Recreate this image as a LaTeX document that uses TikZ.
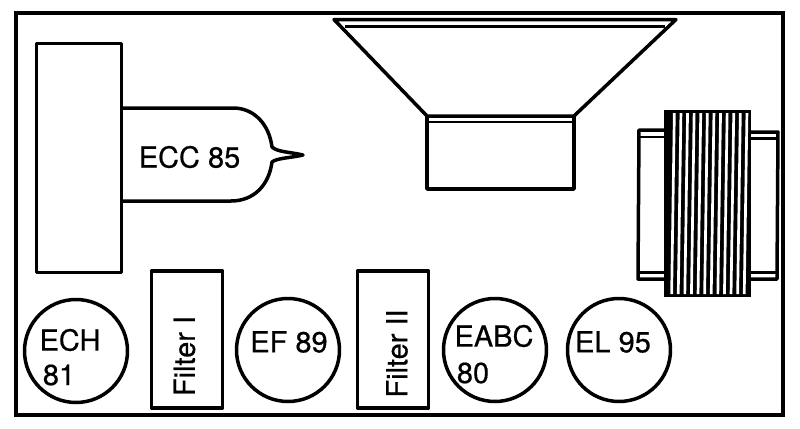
\documentclass[tikz,border=0pt]{standalone}
\usepackage{fontspec}
\setmainfont[FakeBold=0.5]{TeX Gyre Heros}
\tikzset{
  ink/.style={draw=black,line width=1.75pt,line join=round},
  thin ink/.style={draw=black,line width=1.2pt,line join=round},
  label text/.style={font=\fontsize{14.5}{16}\selectfont,inner sep=0pt,text=black},
  tube/.style={ink,circle,minimum size=51.5pt,inner sep=0pt},
  filterbox/.style={ink,rectangle,minimum width=35.5pt,minimum height=68.5pt,inner sep=0pt}
}
\begin{document}
\begin{tikzpicture}[x=0.5pt,y=-0.5pt]
\useasboundingbox (0,0) rectangle (800,429);
% frame
\draw[line width=1.9pt] (16,13) rectangle (783,415);
% ECC 85 chassis block and tube
\node[ink,minimum width=42.5pt,minimum height=114.5pt,inner sep=0pt] (block) at (79,158) {};
\draw[ink] (122,108) -- (233,108) .. controls (254,108) and (269,124) .. (272,147)
  .. controls (277,152) and (290,152) .. (303,155)
  .. controls (290,158) and (277,158) .. (272,162)
  .. controls (269,185) and (254,201) .. (231,201) -- (122,201);
\node[label text] (ecc) at (189.5,157) {ECC 85};
% loudspeaker
\draw[ink] (334,19.5) -- (676,19.5) -- (574,116) -- (427,116) -- cycle;
\draw[thin ink] (345,26.5) -- (665,26.5);
\draw[ink] (427,116) -- (427,189) -- (574,189) -- (574,116);
\draw[thin ink] (427,122) -- (574,122);
% transformer
\draw[ink] (664,130) -- (639,130) -- (638,279) -- (664,279);
\draw[thin ink] (639,137) -- (664,137);
\draw[thin ink] (638,272.5) -- (664,272.5);
\draw[ink] (749,132) -- (778,132) -- (777,279) -- (749,279);
\draw[thin ink] (749,138.5) -- (778,138.5);
\draw[thin ink] (749,272.5) -- (777,272.5);
\fill[black] (664,110) rectangle (751,297);
\foreach \i in {0,...,11}{
  \fill[white] ({673+\i*6.6},113) -- ({675.7+\i*6.6},113) -- ({673+\i*6.6},294) -- ({670.3+\i*6.6},294) -- cycle;
}
% filters
\node[filterbox] (f1) at (187,339.5) {};
\node[label text,rotate=90] (f1t) at (184.5,356) {Filter I};
\node[filterbox] (f2) at (393,339.5) {};
\node[label text,rotate=90] (f2t) at (397,353.5) {Filter II};
% tubes
\node[tube] (ech) at (76,351) {};
\node[label text] (echa) at (70,340) {ECH};
\node[label text] (echb) at (59,375) {81};
\node[tube] (ef) at (288,350) {};
\node[label text] (eft) at (289,342) {EF 89};
\node[tube] (eabc) at (495,350) {};
\node[label text] (eabca) at (494,336) {EABC};
\node[label text] (eabcb) at (473,373) {80};
\node[tube] (el) at (619,350) {};
\node[label text] (elt) at (613,342) {EL 95};
\end{tikzpicture}
\end{document}
